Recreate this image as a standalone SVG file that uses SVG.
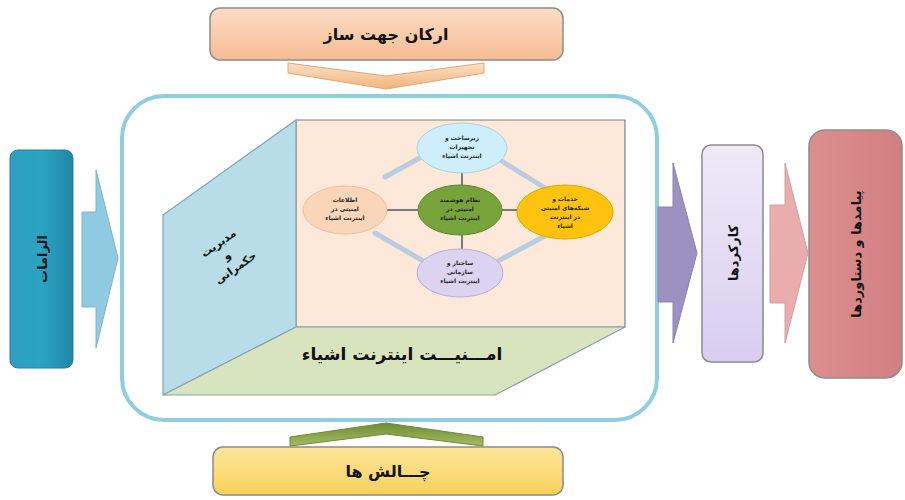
<svg xmlns="http://www.w3.org/2000/svg" width="905" height="500" viewBox="0 0 905 500">
<defs>
<linearGradient id="gTop" x1="0" y1="0" x2="0" y2="1"><stop offset="0" stop-color="#fcdcc4"/><stop offset="1" stop-color="#f6bc95"/></linearGradient>
<linearGradient id="gBot" x1="0" y1="0" x2="0" y2="1"><stop offset="0" stop-color="#fde49a"/><stop offset="1" stop-color="#f9d15c"/></linearGradient>
<linearGradient id="gTeal" x1="0" y1="0" x2="1" y2="0"><stop offset="0" stop-color="#2e9fc2"/><stop offset="0.5" stop-color="#2ba3c3"/><stop offset="1" stop-color="#1f86a8"/></linearGradient>
<linearGradient id="gLav" x1="0" y1="0" x2="0" y2="1"><stop offset="0" stop-color="#eeeaf8"/><stop offset="1" stop-color="#d9cdf0"/></linearGradient>
<linearGradient id="gPink" x1="0" y1="0" x2="1" y2="0"><stop offset="0" stop-color="#dc8f8f"/><stop offset="1" stop-color="#d27f80"/></linearGradient>
<linearGradient id="gChevT" x1="0" y1="0" x2="0" y2="1"><stop offset="0" stop-color="#fbe0c4"/><stop offset="1" stop-color="#f2b47a"/></linearGradient>
<linearGradient id="gChevB" x1="0" y1="0" x2="0" y2="1"><stop offset="0" stop-color="#6e8c34"/><stop offset="1" stop-color="#a4bd62"/></linearGradient>
<style>
.t{font-family:"DejaVu Sans",sans-serif;font-weight:bold;fill:#111;text-anchor:middle}
.s{font-family:"DejaVu Sans",sans-serif;font-weight:bold;fill:#222;text-anchor:middle;font-size:6px}
.box{stroke:#8c8c8c;stroke-width:1.5}
.dia{stroke:#b9cde0;stroke-width:5;stroke-linecap:round}
.hub{stroke:#555;stroke-width:1.5}
</style>
</defs>

<g id="top-box">
<rect x="210" y="8" width="353" height="52" rx="10" fill="url(#gTop)" class="box"/>
<text x="386" y="40" class="t" font-size="16">ارکان جهت ساز</text>
</g>
<g id="bottom-box">
<rect x="213" y="447" width="350" height="48" rx="10" fill="url(#gBot)" class="box"/>
<text x="388" y="477" class="t" font-size="16">چـــالش ها</text>
</g>
<g id="left-box">
<rect x="10" y="150" width="63" height="218" rx="8" fill="url(#gTeal)" stroke="#2580a0" stroke-width="1"/>
<text transform="translate(42,259) rotate(-90)" class="t" font-size="13" dy="5">الزامات</text>
</g>
<g id="mid-box">
<rect x="702" y="145" width="61" height="217" rx="9" fill="url(#gLav)" class="box"/>
<text transform="translate(733,253) rotate(-90)" class="t" font-size="13" dy="5">کارکردها</text>
</g>
<g id="right-box">
<rect x="809" y="130" width="93" height="248" rx="16" fill="url(#gPink)" class="box"/>
<text transform="translate(856,254) rotate(-90)" class="t" font-size="13" dy="5">پیامدها و دستاوردها</text>
</g>

<g id="container">
<rect x="122" y="96" width="535" height="324" rx="42" fill="#ffffff" stroke="#8fcde2" stroke-width="4"/>
<polygon points="296,120 625,120 625,327 296,327" fill="#fde8da" stroke="#7f7f7f" stroke-width="1.2"/>
<polygon points="163,215 296,120 296,327 163,395" fill="#b8dde8" stroke="#7ea6b8" stroke-width="1.2"/>
<polygon points="296,327 625,327 495,395 163,395" fill="#d8e4bd" stroke="#8aa0b0" stroke-width="1.2"/>
<text x="402" y="360" class="t" font-size="17">امـــنیـــت اینترنت اشیاء</text>
<g transform="rotate(-35 228 257)">
<text x="228" y="244" class="t" font-size="11">مدیریت</text>
<text x="228" y="259" class="t" font-size="11">و</text>
<text x="228" y="274" class="t" font-size="11">حکمرانی</text>
</g>
</g>

<g id="connectors">
<line x1="385" y1="177" x2="425" y2="155" class="dia"/>
<line x1="500" y1="160" x2="545" y2="188" class="dia"/>
<line x1="375" y1="233" x2="425" y2="262" class="dia"/>
<line x1="545" y1="236" x2="496" y2="262" class="dia"/>
<line x1="462" y1="173" x2="462" y2="186" class="hub"/>
<line x1="462" y1="235" x2="462" y2="249" class="hub"/>
<line x1="387" y1="210" x2="418" y2="210" class="hub"/>
<line x1="502" y1="210" x2="517" y2="210" class="hub"/>
<polygon points="82,212 96,212 96,170 118,258 96,348 96,307 82,307" fill="#8fcbe0" stroke="#7fb5cc" stroke-width="1"/>
<polygon points="658,207 673,207 673,163 697,253 673,343 673,302 658,302" fill="#9c92c2" stroke="#8a82b0" stroke-width="1"/>
<polygon points="770,205 785,205 785,163 808,253 785,343 785,303 770,303" fill="#e8adac" stroke="#cfa0a0" stroke-width="1"/>
<polygon points="288,63 386,76 484,63 484,73 386,89 288,73" fill="url(#gChevT)" stroke="#e0a878" stroke-width="1"/>
<polygon points="290,437 386,423 483,437 483,446 386,434 290,446" fill="url(#gChevB)" stroke="#6d8a36" stroke-width="1"/>
</g>

<g id="node-top">
<ellipse cx="462" cy="148" rx="45" ry="25" fill="#cdeefa" stroke="#a3d2e2"/>
<text x="462" y="140" class="s">زیرساخت و</text>
<text x="462" y="149" class="s">تجهیزات</text>
<text x="462" y="158" class="s">اینترنت اشیاء</text>
</g>
<g id="node-left">
<ellipse cx="345" cy="210" rx="42" ry="24" fill="#fbd5b7" stroke="#f0c0a0"/>
<text x="345" y="202" class="s">اطلاعات</text>
<text x="345" y="211" class="s">امنیتی در</text>
<text x="345" y="220" class="s">اینترنت اشیاء</text>
</g>
<g id="node-center">
<ellipse cx="460" cy="210" rx="42" ry="25" fill="#77a33b" stroke="#5e8a2c"/>
<text x="460" y="202" class="s">نظام هوشمند</text>
<text x="460" y="211" class="s">امنیتی در</text>
<text x="460" y="220" class="s">اینترنت اشیاء</text>
</g>
<g id="node-right">
<ellipse cx="565" cy="212" rx="48" ry="27" fill="#ffc20e" stroke="#e0a800"/>
<text x="565" y="201" class="s">خدمات و</text>
<text x="565" y="210" class="s">شبکه‌های امنیتی</text>
<text x="565" y="219" class="s">در اینترنت</text>
<text x="565" y="228" class="s">اشیاء</text>
</g>
<g id="node-bottom">
<ellipse cx="460" cy="273" rx="43" ry="24" fill="#dbd3f0" stroke="#b8aedc"/>
<text x="460" y="265" class="s">ساختار و</text>
<text x="460" y="274" class="s">سازمانی</text>
<text x="460" y="283" class="s">اینترنت اشیاء</text>
</g>
</svg>
